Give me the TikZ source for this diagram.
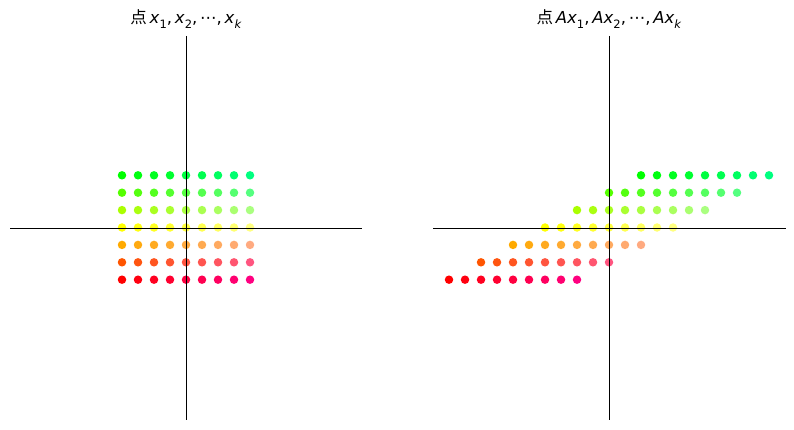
\documentclass[tikz,border=0pt]{standalone}
\usepackage{fontspec}
\setmainfont{DejaVu Sans}
\newfontfamily\cjk{Noto Sans CJK SC}
\usepackage{xcolor}
\usepackage{tikz}
\newcommand{\sbs}[1]{\raisebox{-0.28em}{\fontsize{11.5}{12}\selectfont #1}}

\begin{document}
\begin{tikzpicture}[x=1pt,y=-1pt,
		dot/.style={circle,inner sep=0pt,minimum size=8.5pt},
		axis/.style={draw=black,line width=1.1pt},
		ttl/.style={font=\fontsize{16.5}{19}\selectfont}]
		\useasboundingbox (0,0) rectangle (794,430);

		% points x_1,...,x_k and their images A x
		\foreach \i in {0,...,8}{
			\foreach \j in {0,...,6}{
				\pgfmathsetmacro\rval{min(1,2-\j/3)}
				\pgfmathsetmacro\gval{min(1,\j/3)}
				\pgfmathsetmacro\bval{\i/16}
				\definecolor{dotc}{rgb}{\rval,\gval,\bval}
				\node[dot,fill=dotc] (a\i\j) at ({186+16*(\i-4)},{227.5-17.4*(\j-3)}) {};
				\node[dot,fill=dotc] (b\i\j) at ({609+16*(\i-4+2*(\j-3))},{227.5-17.4*(\j-3)}) {};
			}
		}

		% axes
		\coordinate (lw) at (10,228.3);   \coordinate (le) at (362,228.3);
		\coordinate (ln) at (186.5,36);   \coordinate (ls) at (186.5,420);
		\coordinate (rw) at (433,228.3);  \coordinate (re) at (786,228.3);
		\coordinate (rn) at (609.3,36);   \coordinate (rs) at (609.3,420);
		\draw[axis] (lw) -- (le) (ln) -- (ls);
		\draw[axis] (rw) -- (re) (rn) -- (rs);

		\node[ttl] (ltitle) at (186,19) {{\cjk 点}\,\textit{x}\sbs{1},\,\textit{x}\sbs{2},\,⋯,\,\textit{x}\sbs{\textit{k}}};
		\node[ttl] (rtitle) at (609,19) {{\cjk 点}\,\textit{Ax}\sbs{1},\,\textit{Ax}\sbs{2},\,⋯,\,\textit{Ax}\sbs{\textit{k}}};
\end{tikzpicture}
\end{document}
